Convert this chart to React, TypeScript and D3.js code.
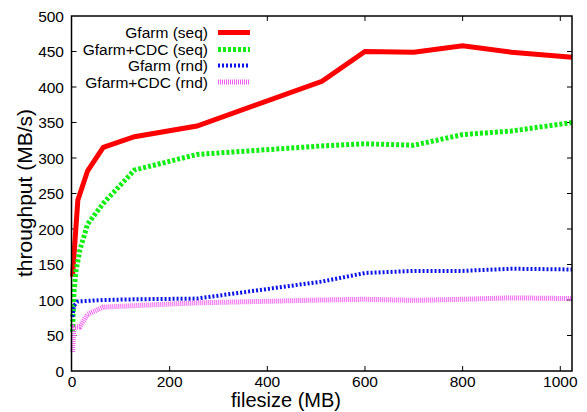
import React, { useRef, useEffect } from 'react';
import * as d3 from 'd3';

// filesize (MB) vs throughput (MB/s)
const seqSizes = [1, 12, 32, 64, 128, 256, 512, 600, 700, 800, 900, 1024];
const gfarmSeq = [133, 241, 282, 315, 330, 345, 408, 450, 449, 458, 449, 442];

const cdcSeqSizes = [1, 4, 8, 16, 32, 64, 128, 256, 512, 600, 700, 800, 900, 1024];
const cdcSeq = [55, 110, 140, 170, 207, 236, 283, 305, 317, 320, 318, 333, 338, 350];

const rndSizes = [1, 4, 12, 64, 128, 256, 512, 600, 700, 800, 900, 1024];
const gfarmRnd = [76, 92, 98, 100, 101, 102, 126, 138, 141, 141, 144, 143];

const cdcRndSizes = [1, 4, 16, 32, 64, 128, 256, 512, 600, 700, 800, 900, 1024];
const cdcRnd = [27, 62, 62, 80, 90, 92, 96, 100, 101, 99.5, 101, 103, 102];

const xTicks = [0, 200, 400, 600, 800, 1000];
const yTicks = [0, 50, 100, 150, 200, 250, 300, 350, 400, 450, 500];

const series = [
  { name: 'Gfarm (seq)', xs: seqSizes, ys: gfarmSeq, color: '#ff0000', width: 5, dash: 'none' },
  { name: 'Gfarm+CDC (seq)', xs: cdcSeqSizes, ys: cdcSeq, color: '#11ee11', width: 5, dash: '3,2' },
  { name: 'Gfarm (rnd)', xs: rndSizes, ys: gfarmRnd, color: '#0a14e6', width: 4, dash: '2,2' },
  { name: 'Gfarm+CDC (rnd)', xs: cdcRndSizes, ys: cdcRnd, color: '#f060f0', width: 5, dash: '1,1' },
];

const App = () => {
  const svgRef = useRef(null);

  useEffect(() => {
    const svg = d3.select(svgRef.current);
    svg.selectAll('*').remove();

    const left = 71.5, right = 572, top = 16, bottom = 371;
    const x = d3.scaleLinear().domain([0, 1024]).range([left + 0.5, right]);
    const y = d3.scaleLinear().domain([0, 500]).range([bottom, top]);
    const font = 'Liberation Sans, Arial, Helvetica, sans-serif';
    const tickLen = 5;
    const tickFont = 15.5;

    // legend geometry (ticks under the key are hidden, as in the original)
    const keyTextX = 208, keyLineX1 = 218, keyLineX2 = 250;
    const keyRowY = [32.5, 49.5, 65.5, 82];

    const g = svg.append('g');

    // ticks
    yTicks.forEach(t => {
      if (t === 0 || t === 500) return;
      g.append('line').attr('x1', left).attr('x2', left + tickLen)
        .attr('y1', y(t)).attr('y2', y(t)).attr('stroke', '#000').attr('stroke-width', 1);
      g.append('line').attr('x1', right).attr('x2', right - tickLen)
        .attr('y1', y(t)).attr('y2', y(t)).attr('stroke', '#000').attr('stroke-width', 1);
    });
    xTicks.forEach(t => {
      if (t === 0) return;
      g.append('line').attr('x1', x(t)).attr('x2', x(t))
        .attr('y1', bottom).attr('y2', bottom - tickLen).attr('stroke', '#000').attr('stroke-width', 1);
      if (x(t) > keyLineX2 + 10) {
        g.append('line').attr('x1', x(t)).attr('x2', x(t))
          .attr('y1', top).attr('y2', top + tickLen).attr('stroke', '#000').attr('stroke-width', 1);
      }
    });

    // tick labels
    yTicks.forEach(t => {
      g.append('text').attr('x', 64).attr('y', y(t)).attr('dy', '0.36em')
        .attr('text-anchor', 'end').attr('font-family', font).attr('font-size', tickFont)
        .attr('fill', '#000').text(t);
    });
    xTicks.forEach(t => {
      g.append('text').attr('x', x(t)).attr('y', 387)
        .attr('text-anchor', 'middle').attr('font-family', font).attr('font-size', tickFont)
        .attr('fill', '#000').text(t);
    });

    // axis titles
    g.append('text').attr('x', 286).attr('y', 407)
      .attr('text-anchor', 'middle').attr('font-family', font).attr('font-size', 20)
      .attr('fill', '#000').text('filesize (MB)');
    g.append('text')
      .attr('transform', `translate(32, 193) rotate(-90)`)
      .attr('text-anchor', 'middle').attr('font-family', font).attr('font-size', 21)
      .attr('fill', '#000').text('throughput (MB/s)');

    // data lines
    const line = d3.line()
      .x(d => x(d[0]))
      .y(d => y(d[1]))
      .curve(d3.curveLinear);

    series.forEach(s => {
      const pts = s.xs.map((v, i) => [v, s.ys[i]]);
      g.append('path')
        .attr('d', line(pts))
        .attr('fill', 'none')
        .attr('stroke', s.color)
        .attr('stroke-width', s.width)
        .attr('stroke-dasharray', s.dash)
        .attr('stroke-linejoin', 'miter');
    });

    // border
    g.append('rect').attr('x', left).attr('y', top)
      .attr('width', right - left).attr('height', bottom - top)
      .attr('fill', 'none').attr('stroke', '#000').attr('stroke-width', 1.5);

    // legend
    series.forEach((s, i) => {
      g.append('text').attr('x', keyTextX).attr('y', keyRowY[i]).attr('dy', '0.36em')
        .attr('text-anchor', 'end').attr('font-family', font).attr('font-size', tickFont)
        .attr('fill', '#000').text(s.name);
      g.append('line').attr('x1', keyLineX1).attr('x2', keyLineX2)
        .attr('y1', keyRowY[i]).attr('y2', keyRowY[i])
        .attr('stroke', s.color).attr('stroke-width', s.width)
        .attr('stroke-dasharray', s.dash);
    });
  }, []);

  return (
    <svg ref={svgRef} width={587} height={412}
      style={{ position: 'absolute', left: 0, top: 0, background: '#fff' }} />
  );
};

export default App;
